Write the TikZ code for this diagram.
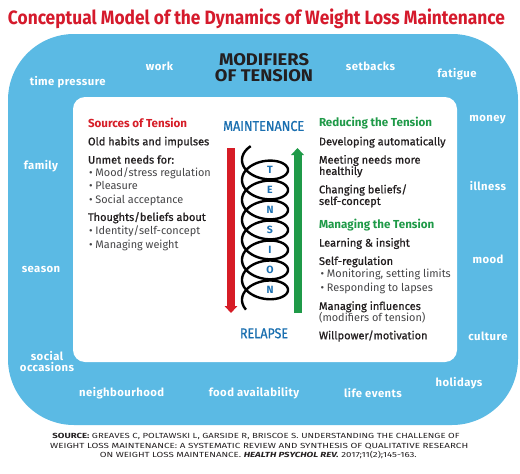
\documentclass[tikz,border=0pt]{standalone}
\usepackage{fontspec}
\setmainfont{Fira Sans}
\newfontfamily\medfont{Fira Sans}[FakeBold=0.8]
\newfontfamily\ringfont{Fira Sans}[LetterSpace=4]
\usetikzlibrary{arrows.meta}
\definecolor{ringblue}{RGB}{91,186,228}
\definecolor{titlered}{RGB}{213,26,44}
\definecolor{srcred}{RGB}{214,30,40}
\definecolor{arrred}{RGB}{214,28,38}
\definecolor{arrgreen}{RGB}{31,154,72}
\definecolor{mblue}{RGB}{26,111,176}
\definecolor{txt}{RGB}{35,31,32}
\definecolor{txtlight}{RGB}{70,70,72}
\tikzset{
  ringlbl/.style={font=\ringfont\bfseries\fontsize{11.3}{12.5}\selectfont, text=white, align=center},
  hd/.style={anchor=mid west, font=\medfont\fontsize{11}{12}\selectfont, text=txt},
  bl/.style={anchor=mid west, font=\fontsize{10.9}{12}\selectfont, text=txtlight},
  redhd/.style={anchor=mid west, font=\bfseries\fontsize{11.6}{13}\selectfont, text=srcred},
  greenhd/.style={anchor=mid west, font=\bfseries\fontsize{11.6}{13}\selectfont, text=arrgreen},
  letter/.style={font=\bfseries\fontsize{10.5}{11}\selectfont, text=mblue},
  spring/.style={line width=2.4pt, black},
  bigarrow/.style={line width=8pt, -{Triangle[width=12.5pt,length=7pt]}},
  srcline/.style={font=\fontsize{7.4}{8}\selectfont, text=txt}
}
\begin{document}
\begin{tikzpicture}[x=1pt,y=-1pt,inner sep=0pt,outer sep=0pt]
\useasboundingbox[fill=white] (0,0) rectangle (520,474);
% title
\node[anchor=base, text=titlered] (title) at (256.5,24.3)
  {\resizebox{497pt}{\height}{\fontsize{19.3}{21}\selectfont\bfseries Conceptual Model of the Dynamics of Weight Loss Maintenance}};
% outer ring and inner panel
\fill[ringblue, rounded corners=66pt] (8,34) rectangle (518,425);
\fill[white, rounded corners=12pt] (73,97) rectangle (457,362);
% modifiers heading
\node[text=txt] (mod1) at (264,60) {\resizebox{90pt}{12pt}{\bfseries MODIFIERS}};
\node[text=txt] (mod2) at (264,76) {\resizebox{98pt}{12pt}{\bfseries OF TENSION}};
% ring labels
\node[ringlbl] (m1) at (67.7,81.7) {time pressure};
\node[ringlbl] (m2) at (159.5,66) {work};
\node[ringlbl] (m3) at (370.5,66) {setbacks};
\node[ringlbl] (m4) at (457,74) {fatigue};
\node[ringlbl] (m5) at (487.5,120) {money};
\node[ringlbl] (m6) at (488,186) {illness};
\node[ringlbl] (m7) at (488,259) {mood};
\node[ringlbl] (m8) at (488,336.7) {culture};
\node[ringlbl] (m9) at (459,382.7) {holidays};
\node[ringlbl] (m10) at (373,393.3) {life events};
\node[ringlbl] (m11) at (254,393.3) {food availability};
\node[ringlbl] (m12) at (121.7,393.3) {neighbourhood};
\node[ringlbl] (m13) at (47,361.5) {social\\[-1.8pt]occasions};
\node[ringlbl] (m14) at (41,269) {season};
\node[ringlbl] (m15) at (41,166) {family};
% centre column
\node[text=mblue] (maint) at (263.7,126) {\resizebox{81pt}{10pt}{\medfont MAINTENANCE}};
\node[text=mblue] (relapse) at (264,333.3) {\resizebox{48pt}{10pt}{\medfont RELAPSE}};
\coordinate (redtop) at (231,148);
\coordinate (redbot) at (231,313);
\coordinate (grnbot) at (297.5,313);
\coordinate (grntop) at (297.5,148);
\draw[bigarrow, arrred] (redtop) -- (redbot);
\draw[bigarrow, arrgreen] (grnbot) -- (grntop);
\draw[spring] plot[domain=-0.9:44.58, samples=700, smooth, variable=\t]
  ({265-23*cos(\t r)},{160+3.18*\t+14*sin(\t r)});
\foreach \l [count=\i from 0] in {T,E,N,S,I,O,N}
  \node[letter] (tl\i) at (270,170+20*\i) {\l};
% left column
\node[redhd] (l0) at (88,124.5) {Sources of Tension};
\node[hd] (l1) at (88,142.7) {Old habits and impulses};
\node[hd] (l2) at (88,161) {Unmet needs for:};
\node[bl] (l3) at (89,174) {\textbullet\ Mood/stress regulation};
\node[bl] (l4) at (89,187.3) {\textbullet\ Pleasure};
\node[bl] (l5) at (89,200.7) {\textbullet\ Social acceptance};
\node[hd] (l6) at (88,218.3) {Thoughts/beliefs about};
\node[bl] (l7) at (89,232.3) {\textbullet\ Identity/self-concept};
\node[bl] (l8) at (89,245.7) {\textbullet\ Managing weight};
% right column
\node[greenhd] (r0) at (319,124.3) {Reducing the Tension};
\node[hd] (r1) at (319,142.7) {Developing automatically};
\node[hd] (r2) at (319,161) {Meeting needs more};
\node[hd] (r3) at (319,172.3) {healthily};
\node[hd] (r4) at (319,190.7) {Changing beliefs/};
\node[hd] (r5) at (319,202.3) {self-concept};
\node[greenhd] (r6) at (319,225.7) {Managing the Tension};
\node[hd] (r7) at (319,244) {Learning \& insight};
\node[hd] (r8) at (319,262.3) {Self-regulation};
\node[bl] (r9) at (320.5,275) {\textbullet\ Monitoring, setting limits};
\node[bl] (r10) at (320.5,288.7) {\textbullet\ Responding to lapses};
\node[hd] (r11) at (319,307.3) {Managing influences};
\node[bl] (r12) at (319,319) {(modifiers of tension)};
\node[hd] (r13) at (319,336.7) {Willpower/motivation};
% source
\node[srcline] (s1) at (256,436.7) {\resizebox{407pt}{\height}{\textbf{SOURCE:} GREAVES C, POLTAWSKI L, GARSIDE R, BRISCOE S. UNDERSTANDING THE CHALLENGE OF}};
\node[srcline] (s2) at (259.2,445.8) {\resizebox{418pt}{\height}{WEIGHT LOSS MAINTENANCE: A SYSTEMATIC REVIEW AND SYNTHESIS OF QUALITATIVE RESEARCH}};
\node[srcline] (s3) at (258.3,454.9) {\resizebox{317pt}{\height}{ON WEIGHT LOSS MAINTENANCE. \textbf{\textit{HEALTH PSYCHOL REV.}} 2017;11(2);145-163.}};
\end{tikzpicture}
\end{document}
